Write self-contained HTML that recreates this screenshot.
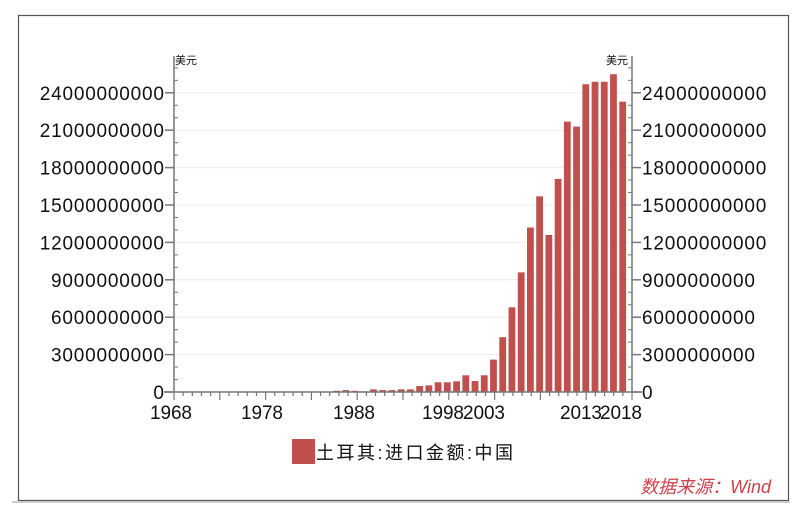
<!DOCTYPE html>
<html><head><meta charset="utf-8"><style>
html,body{margin:0;padding:0;background:#fff;width:800px;height:523px;overflow:hidden}
svg{display:block}
text{font-family:"Liberation Sans","Noto Sans CJK SC",sans-serif;fill:#111}
</style></head><body>
<svg id="s" width="800" height="523" xmlns="http://www.w3.org/2000/svg">
<rect x="18.5" y="15.5" width="770" height="485" fill="#fff" stroke="#555" stroke-width="1.2"/>
<line x1="12" y1="502" x2="790" y2="502" stroke="#ccc" stroke-width="2"/>
<g id="g"></g>
<text x="175" y="64" font-size="11">美元</text>
<text x="606" y="64" font-size="11">美元</text>
<rect x="292" y="439" width="23" height="25" fill="#c0504d"/>
<text x="316" y="459" font-size="18" fill="#222" textLength="197">土耳其:进口金额:中国</text>
<text x="771" y="493" font-size="18" font-style="italic" text-anchor="end" style="fill:#d0404a">数据来源：Wind</text>
</svg>
<script>
var g=document.getElementById('g'),h='';
var L=174,R=632,B=392,step=37.4;
for(var i=1;i<=8;i++){var y=B-i*step;h+='<line x1="'+L+'" x2="'+R+'" y1="'+y+'" y2="'+y+'" stroke="#eee"/>';}
var vals=[23.3,25.5,24.9,24.9,24.7,21.3,21.7,17.1,12.6,15.7,13.2,9.6,6.8,4.4,2.6,1.34,0.88,1.34,0.86,0.78,0.78,0.53,0.48,0.21,0.21,0.15,0.15,0.21,0.05,0.1,0.15,0.1];
for(var k=0;k<vals.length;k++){var c=622.7-k*9.23,hh=vals[k]*12.46;h+='<rect x="'+(c-3.4)+'" y="'+(B-hh)+'" width="6.8" height="'+hh+'" fill="#c0504d"/>';}
h+='<line x1="'+L+'" x2="'+L+'" y1="56" y2="'+B+'" stroke="#777" stroke-width="1.5"/>';
h+='<line x1="'+R+'" x2="'+R+'" y1="56" y2="'+B+'" stroke="#777" stroke-width="1.5"/>';
h+='<line x1="'+(L-10)+'" x2="'+(R+10)+'" y1="'+B+'" y2="'+B+'" stroke="#777" stroke-width="1.5"/>';
for(var i=0;i<=8;i++){var y=B-i*step;var lab=i==0?'0':(i*3)+'000000000';
var w=lab.length*11.3;
var tl=i==0?'':' textLength="'+w+'"';
h+='<line x1="'+(L-9)+'" x2="'+L+'" y1="'+y+'" y2="'+y+'" stroke="#777" stroke-width="1.5"/>';
h+='<line x1="'+R+'" x2="'+(R+9)+'" y1="'+y+'" y2="'+y+'" stroke="#777" stroke-width="1.5"/>';
h+='<text x="'+(i==0?L-10:L-10-w)+'" y="'+(y+7)+'" font-size="19"'+(i==0?' text-anchor="end"':'')+tl+'>'+lab+'</text>';
h+='<text x="'+(R+10)+'" y="'+(y+7)+'" font-size="19"'+tl+'>'+lab+'</text>';}
for(var j=0;j<=26;j++){var y=B-j*step/3;if(j%3==0)continue;
h+='<line x1="'+L+'" x2="'+(L+4)+'" y1="'+y+'" y2="'+y+'" stroke="#777"/>';
h+='<line x1="'+(R-4)+'" x2="'+R+'" y1="'+y+'" y2="'+y+'" stroke="#777"/>';}
var px=(R-L)/50;
for(var yr=0;yr<=50;yr++){var x=L+yr*px;var maj=yr%5==0;
h+='<line x1="'+x+'" x2="'+x+'" y1="'+B+'" y2="'+(B+(maj?8:4))+'" stroke="#777" stroke-width="1.2"/>';}
[[1968,150],[1978,241],[1988,333],[1998,422],[2003,463],[2013,560],[2018,600]].forEach(function(a){
h+='<text x="'+a[1]+'" y="'+(B+27)+'" font-size="19" textLength="42">'+a[0]+'</text>';});
g.innerHTML=h;
</script>
</body></html>
